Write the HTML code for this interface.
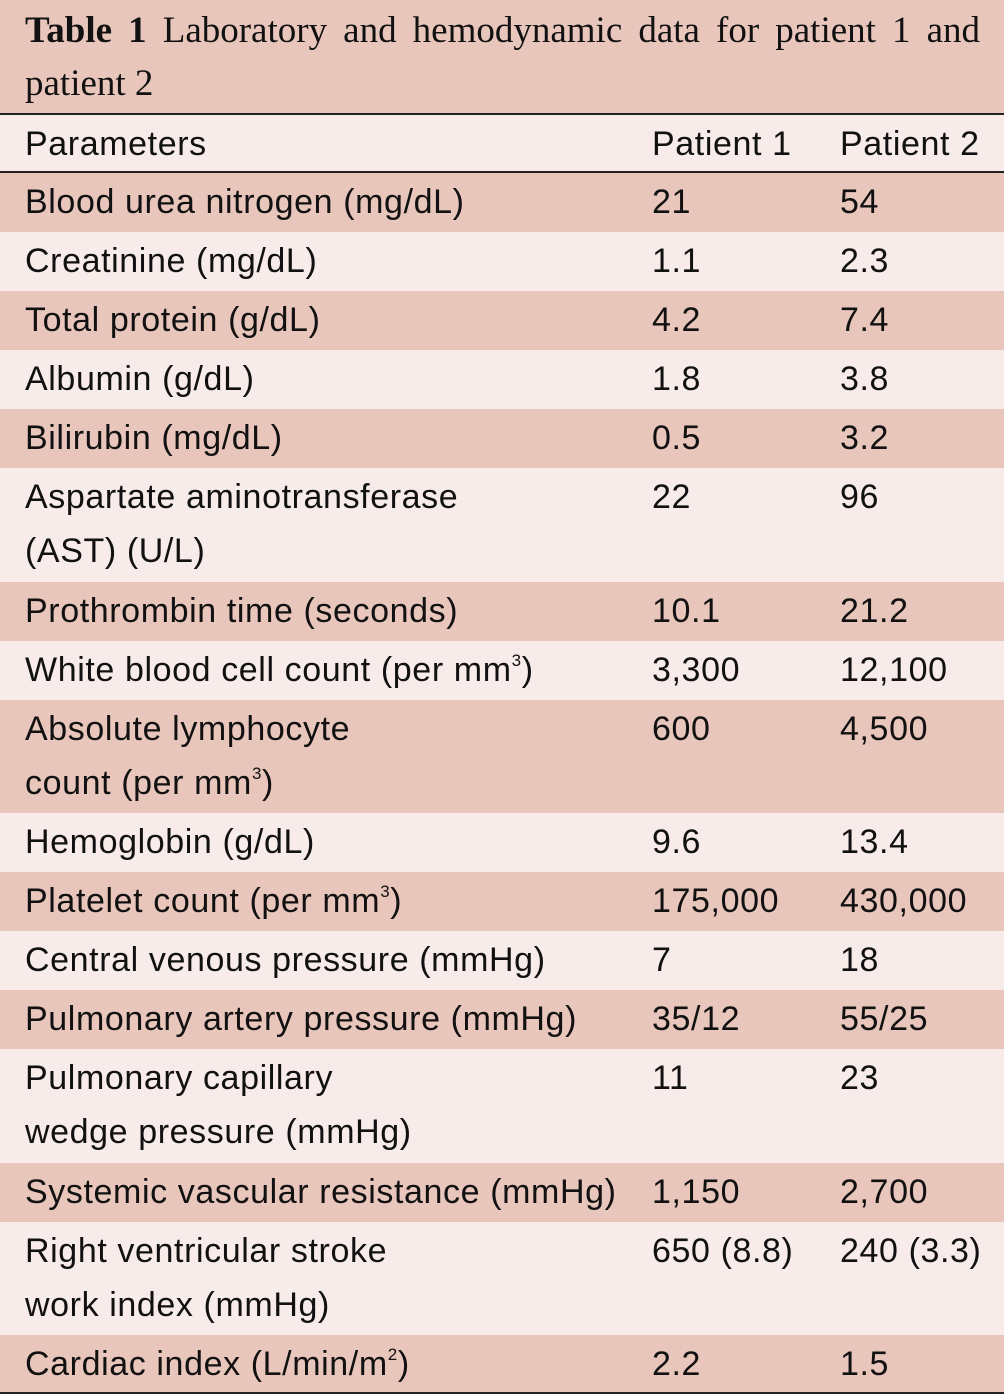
<!DOCTYPE html>
<html><head><meta charset="utf-8"><style>
*{margin:0;padding:0;box-sizing:border-box}
body{width:1004px;height:1394px;background:#f8ecea;font-family:"Liberation Sans",Arial,sans-serif;color:#111;overflow:hidden}
.title{height:113px;background:#e9c6bb;padding:4px 24px 0 25px;font-family:"Liberation Serif",serif;font-size:37px;line-height:53px;text-align:justify;text-align-last:left}
.title b{font-weight:bold}
.row{display:flex;font-size:34px;letter-spacing:0.6px;line-height:54px;padding-top:2px;height:59px}
.row.d{height:113.5px}
.row.dk{background:#e9c6bb}
.c1{width:652px;padding-left:25px}
.c2{width:188px}
.c3{flex:1}
.hdr{border-top:2px solid #222;border-bottom:2px solid #222;height:60px}
sup{font-size:17px;vertical-align:15px;line-height:0}
.end{border-bottom:2px solid #222}
</style></head><body>
<div class="title"><b>Table 1</b> Laboratory and hemodynamic data for patient 1 and patient 2</div>
<div class="row hdr"><div class="c1">Parameters</div><div class="c2">Patient 1</div><div class="c3">Patient 2</div></div>
<div class="row dk"><div class="c1">Blood urea nitrogen (mg/dL)</div><div class="c2">21</div><div class="c3">54</div></div>
<div class="row"><div class="c1">Creatinine (mg/dL)</div><div class="c2">1.1</div><div class="c3">2.3</div></div>
<div class="row dk"><div class="c1">Total protein (g/dL)</div><div class="c2">4.2</div><div class="c3">7.4</div></div>
<div class="row"><div class="c1">Albumin (g/dL)</div><div class="c2">1.8</div><div class="c3">3.8</div></div>
<div class="row dk"><div class="c1">Bilirubin (mg/dL)</div><div class="c2">0.5</div><div class="c3">3.2</div></div>
<div class="row d"><div class="c1">Aspartate aminotransferase<br>(AST) (U/L)</div><div class="c2">22</div><div class="c3">96</div></div>
<div class="row dk"><div class="c1">Prothrombin time (seconds)</div><div class="c2">10.1</div><div class="c3">21.2</div></div>
<div class="row"><div class="c1">White blood cell count (per mm<sup>3</sup>)</div><div class="c2">3,300</div><div class="c3">12,100</div></div>
<div class="row d dk"><div class="c1">Absolute lymphocyte<br>count (per mm<sup>3</sup>)</div><div class="c2">600</div><div class="c3">4,500</div></div>
<div class="row"><div class="c1">Hemoglobin (g/dL)</div><div class="c2">9.6</div><div class="c3">13.4</div></div>
<div class="row dk"><div class="c1">Platelet count (per mm<sup>3</sup>)</div><div class="c2">175,000</div><div class="c3">430,000</div></div>
<div class="row"><div class="c1">Central venous pressure (mmHg)</div><div class="c2">7</div><div class="c3">18</div></div>
<div class="row dk"><div class="c1">Pulmonary artery pressure (mmHg)</div><div class="c2">35/12</div><div class="c3">55/25</div></div>
<div class="row d"><div class="c1">Pulmonary capillary<br>wedge pressure (mmHg)</div><div class="c2">11</div><div class="c3">23</div></div>
<div class="row dk"><div class="c1">Systemic vascular resistance (mmHg)</div><div class="c2">1,150</div><div class="c3">2,700</div></div>
<div class="row d"><div class="c1">Right ventricular stroke<br>work index (mmHg)</div><div class="c2">650 (8.8)</div><div class="c3">240 (3.3)</div></div>
<div class="row dk end"><div class="c1">Cardiac index (L/min/m<sup>2</sup>)</div><div class="c2">2.2</div><div class="c3">1.5</div></div>
</body></html>
